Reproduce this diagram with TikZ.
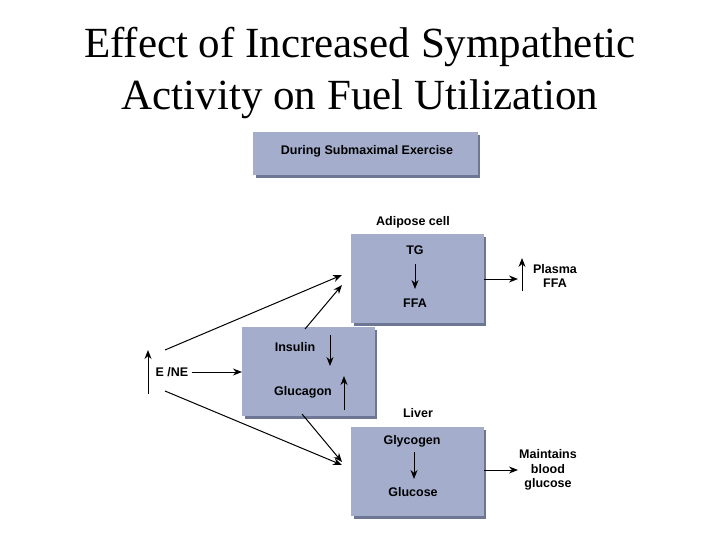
\documentclass[tikz,border=0pt]{standalone}
\usepackage{fontspec}
\setmainfont{Liberation Serif}
\newfontfamily\hv{Liberation Sans}
\usetikzlibrary{arrows.meta}
\definecolor{boxc}{RGB}{164,174,204}
\definecolor{shc}{RGB}{110,118,150}
\tikzset{
 bx/.style={fill=boxc,draw=none},
 sh/.style={fill=shc,draw=none},
 lbl/.style={font=\hv\bfseries\fontsize{12.5}{14.5}\selectfont,inner sep=0pt,align=center},
 ar/.style={-{Stealth[length=9pt,width=7pt]},line width=1pt},
}
\begin{document}
\begin{tikzpicture}[x=1pt,y=-1pt]
\useasboundingbox (0,0) rectangle (720,540);
\node[font=\fontsize{43}{52}\selectfont,align=center] (title) at (360,73) {Effect of Increased Sympathetic\\Activity on Fuel Utilization};
% boxes with shadows
\foreach \a/\b/\c/\d in {253/132/478/175,351/234/484/323,242/327/375/416,351/427/484/516}{
 \fill[sh] (\a+3,\b+3) rectangle (\c+2,\d+3);
 \fill[bx] (\a,\b) rectangle (\c,\d);
}
\node[lbl] (top) at (367,151) {During Submaximal Exercise};
\node[lbl] (adlab) at (413,222) {Adipose cell};
\node[lbl] (tg) at (415,250) {TG};
\node[lbl] (ffa) at (415,303) {FFA};
\draw[ar] (415,264) -- (415,289);
\node[lbl] (pffa) at (555,276) {Plasma\\FFA};
\coordinate (pa1) at (522,291); \coordinate (pa2) at (522,258);
\draw[ar] (pa1) -- (pa2);
\coordinate (adr) at (484,279); \coordinate (pin) at (518,279);
\draw[ar] (adr) -- (pin);
\node[lbl] (ene) at (172,372) {E /NE};
\coordinate (e1) at (148,394); \coordinate (e2) at (148,350);
\draw[ar] (e1) -- (e2);
\coordinate (hin) at (242,372);
\draw[ar] (ene.east)++(3,0) -- (hin);
\node[lbl] (ins) at (295,347) {Insulin};
\coordinate (i1) at (330,335); \coordinate (i2) at (330,366);
\draw[ar] (i1) -- (i2);
\node[lbl] (glu) at (303,392) {Glucagon};
\coordinate (g1) at (344,410); \coordinate (g2) at (344,376);
\draw[ar] (g1) -- (g2);
\coordinate (a1) at (165,350); \coordinate (a2) at (342,275);
\draw[ar] (a1) -- (a2);
\coordinate (b1) at (305,329); \coordinate (b2) at (342,285);
\draw[ar] (b1) -- (b2);
\coordinate (c1) at (165,391); \coordinate (c2) at (342,465);
\draw[ar] (c1) -- (c2);
\coordinate (d1) at (302,414); \coordinate (d2) at (342,462);
\draw[ar] (d1) -- (d2);
\node[lbl] (liv) at (418,413) {Liver};
\node[lbl] (gly) at (412,441) {Glycogen};
\node[lbl] (gls) at (413,492) {Glucose};
\coordinate (l1) at (414,452); \coordinate (l2) at (414,479);
\draw[ar] (l1) -- (l2);
\node[lbl] (mbg) at (548,470) {Maintains\\blood\\glucose};
\coordinate (lr) at (484,470); \coordinate (lm) at (518,470);
\draw[ar] (lr) -- (lm);
\end{tikzpicture}
\end{document}
